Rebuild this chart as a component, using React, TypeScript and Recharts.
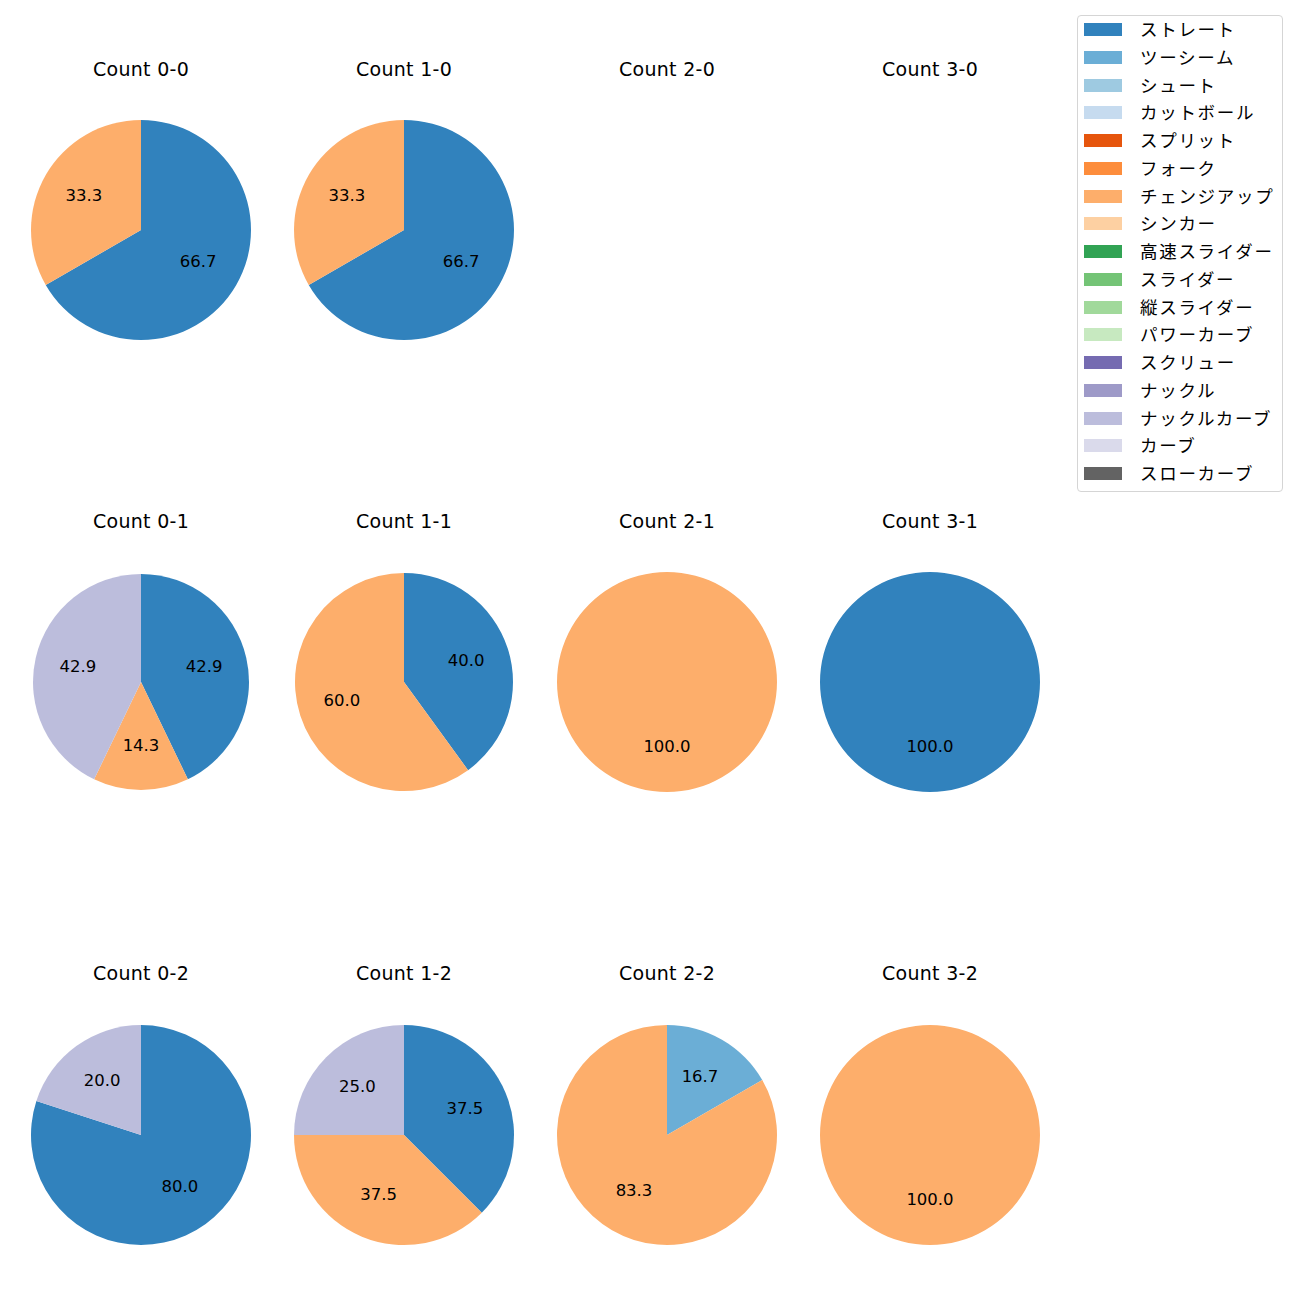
import { PieChart, Pie, Cell } from 'recharts';

const pitchTypes = [
  'ストレート', 'ツーシーム', 'シュート', 'カットボール', 'スプリット', 'フォーク',
  'チェンジアップ', 'シンカー', '高速スライダー', 'スライダー', '縦スライダー',
  'パワーカーブ', 'スクリュー', 'ナックル', 'ナックルカーブ', 'カーブ', 'スローカーブ',
];

const pitchColors = [
  '#3182bd', '#6baed6', '#9ecae1', '#c6dbef', '#e6550d', '#fd8d3c',
  '#fdae6b', '#fdd0a2', '#31a354', '#74c476', '#a1d99b', '#c7e9c0',
  '#756bb1', '#9e9ac8', '#bcbddc', '#dadaeb', '#636363',
];

const countLabels = [
  'Count 0-0', 'Count 1-0', 'Count 2-0', 'Count 3-0',
  'Count 0-1', 'Count 1-1', 'Count 2-1', 'Count 3-1',
  'Count 0-2', 'Count 1-2', 'Count 2-2', 'Count 3-2',
];

// pitch counts per ball-strike count: [pitch type, number of pitches]
const count00: [string, number][] = [['ストレート', 2], ['チェンジアップ', 1]];
const count10: [string, number][] = [['ストレート', 2], ['チェンジアップ', 1]];
const count20: [string, number][] = [];
const count30: [string, number][] = [];
const count01: [string, number][] = [['ストレート', 3], ['チェンジアップ', 1], ['ナックルカーブ', 3]];
const count11: [string, number][] = [['ストレート', 2], ['チェンジアップ', 3]];
const count21: [string, number][] = [['チェンジアップ', 1]];
const count31: [string, number][] = [['ストレート', 1]];
const count02: [string, number][] = [['ストレート', 4], ['ナックルカーブ', 1]];
const count12: [string, number][] = [['ストレート', 3], ['チェンジアップ', 3], ['ナックルカーブ', 2]];
const count22: [string, number][] = [['ツーシーム', 1], ['チェンジアップ', 5]];
const count32: [string, number][] = [['チェンジアップ', 1]];

const allCounts = [
  count00, count10, count20, count30,
  count01, count11, count21, count31,
  count02, count12, count22, count32,
];

const colX = [141, 404, 667, 930];
const rowY = [230, 682, 1135];
const titleY = [69, 521, 973];
const radii = [110, 110, 110, 110, 108, 109, 110, 110, 110, 110, 110, 110];

const FONT = '"Noto Sans CJK JP", "Noto Sans", sans-serif';
const LATIN = '"DejaVu Sans", sans-serif';
const RAD = Math.PI / 180;

const renderLabel = (props: any) => {
  const { cx, cy, midAngle, outerRadius, percent } = props;
  const r = outerRadius * 0.6;
  const x = cx + r * Math.cos(-midAngle * RAD);
  const y = cy + r * Math.sin(-midAngle * RAD) - 1.5;
  return (
    <text x={x} y={y} fill="#000" textAnchor="middle" dominantBaseline="central"
      fontSize={16.5} fontFamily={LATIN}>
      {(percent * 100).toFixed(1)}
    </text>
  );
};

export default function App() {
  return (
    <div style={{ position: 'absolute', left: 0, top: 0, width: 1300, height: 1300, background: '#fff', fontFamily: FONT }}>
      <div style={{ position: 'absolute', left: 0, top: 0 }}>
        <PieChart width={1300} height={1300} margin={{ top: 0, right: 0, bottom: 0, left: 0 }}>
          {allCounts.map((rows, i) => {
            if (rows.length === 0) return null;
            const data = rows.map(([name, value]) => ({ name, value }));
            return (
              <Pie
                key={i}
                data={data}
                dataKey="value"
                nameKey="name"
                cx={colX[i % 4]}
                cy={rowY[Math.floor(i / 4)]}
                outerRadius={radii[i]}
                innerRadius={0}
                startAngle={90}
                endAngle={-270}
                stroke="none"
                label={renderLabel}
                labelLine={false}
                isAnimationActive={false}
              >
                {data.map((d) => (
                  <Cell key={d.name} fill={pitchColors[pitchTypes.indexOf(d.name)]} />
                ))}
              </Pie>
            );
          })}
        </PieChart>
      </div>

      {countLabels.map((t, i) => (
        <div key={t} style={{
          position: 'absolute', left: colX[i % 4] - 100, width: 200, textAlign: 'center',
          top: titleY[Math.floor(i / 4)] - 13, fontSize: 19, lineHeight: '26px', color: '#000',
          fontFamily: LATIN, letterSpacing: 0.3,
        }}>{t}</div>
      ))}

      <div style={{
        position: 'absolute', left: 1077, top: 15, width: 204, height: 475,
        border: '1px solid #d5d5d5', borderRadius: 4, background: '#fff',
      }}>
        {pitchTypes.map((p, i) => (
          <div key={p} style={{ position: 'absolute', left: 0, top: 13 + i * 27.75 - 14, height: 28, width: 204 }}>
            <div style={{ position: 'absolute', left: 6, top: 8, width: 38, height: 13, background: pitchColors[i] }} />
            <div style={{ position: 'absolute', left: 62, top: 0, lineHeight: '28px', fontSize: 17.5, letterSpacing: 1.7, color: '#000', whiteSpace: 'nowrap' }}>{p}</div>
          </div>
        ))}
      </div>
    </div>
  );
}
